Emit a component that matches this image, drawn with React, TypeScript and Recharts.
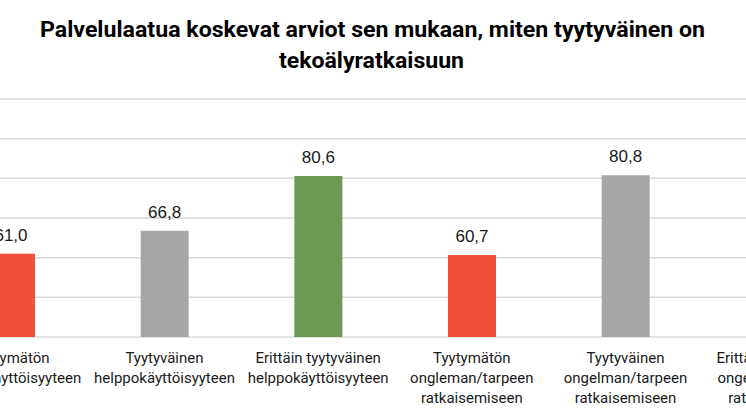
import { Bar, BarChart, CartesianGrid, Cell, LabelList, XAxis, YAxis } from 'recharts';

const TITLE_LINES = ['Palvelulaatua koskevat arviot sen mukaan, miten tyytyväinen on', 'tekoälyratkaisuun'];
const CATEGORIES = [
  'Tyytymätön\nhelppokäyttöisyyteen',
  'Tyytyväinen\nhelppokäyttöisyyteen',
  'Erittäin tyytyväinen\nhelppokäyttöisyyteen',
  'Tyytymätön\nongleman/tarpeen\nratkaisemiseen',
  'Tyytyväinen\nongelman/tarpeen\nratkaisemiseen',
  'Erittäin tyytyväinen\nongelman/tarpeen\nratkaisemiseen',
];
const VALUES = [61.0, 66.8, 80.6, 60.7, 80.8, 84.0];
const RED = '#F04F39';
const GRAY = '#A6A6A6';
const GREEN = '#6A9A53';
const BAR_COLORS = [RED, GRAY, GREEN, RED, GRAY, GREEN];
const Y_TICKS = [40, 50, 60, 70, 80, 90, 100];

const data = CATEGORIES.map((name, i) => ({ name, value: VALUES[i], color: BAR_COLORS[i] }));

const TEXT = '#1a1a1a';

function CategoryTick({ x, y, payload }: any) {
  const lines = String(payload.value).split('\n');
  return (
    <text x={x} y={y} textAnchor="middle" fill={TEXT} fontSize={15} fontFamily="Roboto, 'Liberation Sans', sans-serif">
      {lines.map((line, i) => (
        <tspan key={i} x={x} dy={i === 0 ? 26 : 20}>
          {line}
        </tspan>
      ))}
    </text>
  );
}

function ValueLabel({ x, y, width, value }: any) {
  return (
    <text
      x={x + width / 2}
      y={y - 13}
      textAnchor="middle"
      fill={TEXT}
      fontSize={17}
      fontFamily="'Liberation Sans', Arial, sans-serif"
    >
      {Number(value).toFixed(1).replace('.', ',')}
    </text>
  );
}

export default function App() {
  return (
    <div
      style={{
        position: 'fixed',
        left: 0,
        top: 0,
        width: 746,
        height: 419,
        overflow: 'hidden',
        background: '#fff',
      }}
    >
      {/* title: condensed bold look via textLength */}
      <svg width={746} height={80} style={{ position: 'absolute', left: 0, top: 0 }}>
        <text
          x={372.5}
          y={37}
          textAnchor="middle"
          fontFamily="Roboto, sans-serif"
          fontWeight={700}
          fontSize={22}
          textLength={665}
          lengthAdjust="spacingAndGlyphs"
          fill="#000"
        >
          {TITLE_LINES[0]}
        </text>
        <text
          x={371.5}
          y={68}
          textAnchor="middle"
          fontFamily="Roboto, sans-serif"
          fontWeight={700}
          fontSize={22}
          textLength={185}
          lengthAdjust="spacingAndGlyphs"
          fill="#000"
        >
          {TITLE_LINES[1]}
        </text>
      </svg>
      <div style={{ position: 'absolute', left: -66, top: 89 }}>
        <BarChart width={922} height={328} data={data} margin={{ top: 10, right: 0, bottom: 0, left: 0 }}>
          <CartesianGrid vertical={false} stroke="#d9d9d9" strokeWidth={1.5} />
          <YAxis hide domain={[40, 100]} ticks={Y_TICKS} allowDataOverflow />
          <XAxis
            dataKey="name"
            interval={0}
            height={80}
            axisLine={false}
            tickLine={false}
            tickSize={0}
            tickMargin={0}
            tick={<CategoryTick />}
          />
          <Bar dataKey="value" barSize={48} isAnimationActive={false}>
            {data.map((d, i) => (
              <Cell key={i} fill={d.color} />
            ))}
            <LabelList dataKey="value" content={<ValueLabel />} />
          </Bar>
        </BarChart>
      </div>
    </div>
  );
}
